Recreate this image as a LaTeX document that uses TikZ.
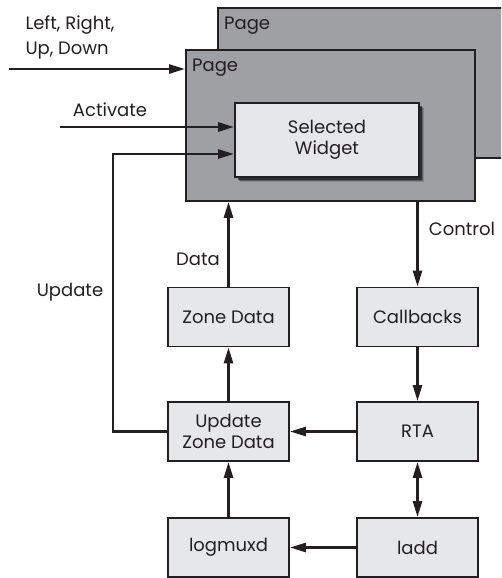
\documentclass[tikz,border=0pt]{standalone}
\usepackage{fontspec}
\setmainfont{Poppins}
\usepackage{tikz}
\usetikzlibrary{calc,positioning,arrows.meta,shadows}
\definecolor{pagec}{RGB}{159,160,163}
\definecolor{boxc}{RGB}{230,231,232}
\definecolor{inkc}{RGB}{35,31,32}
\tikzset{
  page/.style={rectangle,draw=inkc,fill=pagec,line width=1.8pt,anchor=north west},
  pgtxt/.style={anchor=north west,inner xsep=7pt,inner ysep=10pt,font=\fontsize{18}{22}\selectfont,text=inkc},
  box/.style={rectangle,draw=inkc,fill=boxc,line width=1.8pt,minimum width=121,minimum height=59,align=center,font=\fontsize{18}{21}\selectfont,text=inkc},
  wbox/.style={box,minimum width=184,minimum height=74,
    drop shadow={shadow xshift=5pt,shadow yshift=-5pt,fill=black,opacity=0.15},
    drop shadow={shadow xshift=4pt,shadow yshift=-4pt,fill=black,opacity=0.3},
    drop shadow={shadow xshift=2.5pt,shadow yshift=-2.5pt,fill=black,opacity=0.5}},
  lbl/.style={font=\fontsize{18}{25}\selectfont,text=inkc,align=left},
  arr/.style={-{Triangle[length=16pt,width=9pt]},line width=2.6pt,inkc},
  darr/.style={{Triangle[length=16pt,width=9pt]}-{Triangle[length=16pt,width=9pt]},line width=2.6pt,inkc},
}
\begin{document}
\begin{tikzpicture}[x=1pt,y=-1pt]
  \clip (0,0) rectangle (501,578);
  % pages
  \node[page,minimum width=300,minimum height=150] (back) at (217,7) {};
  \node[pgtxt] (backlbl) at (back.north west) {Page};
  \node[page,minimum width=289,minimum height=151] (front) at (185,49) {};
  \node[pgtxt] (frontlbl) at (front.north west) {Page};
  \node[wbox] (widget) at (327,140) {Selected\\Widget};
  % process boxes
  \node[box] (zone) at (228.5,317) {Zone Data};
  \node[box] (cb) at (417.5,317) {Callbacks};
  \node[box] (upd) at (228.5,431.5) {Update\\Zone Data};
  \node[box] (rta) at (417.5,431.5) {RTA};
  \node[box] (logm) at (228.5,547.5) {logmuxd};
  \node[box] (ladd) at (417.5,547.5) {ladd};
  % inputs
  \coordinate (navin) at (9,69);
  \coordinate (actin) at (60,127);
  \coordinate (updin) at (113,154);
  \node[lbl,anchor=west] (navlbl) at (22,37) {Left, Right,\\Up, Down};
  \node[lbl] (actlbl) at (110,110) {Activate};
  \node[lbl] (updlbl) at (70,292) {Update};
  \node[lbl] (datalbl) at (198,259) {Data};
  \node[lbl] (ctllbl) at (462,229) {Control};
  \draw[arr] (navin) -- (navin -| front.west);
  \draw[arr] (actin) -- (actin -| widget.west);
  \draw[arr] (upd.west) -| (updin) -- (updin -| widget.west);
  \draw[arr] (zone.north) -- (zone.north |- front.south);
  \draw[arr] (cb.north |- front.south) -- (cb.north);
  \draw[arr] (cb) -- (rta);
  \draw[arr] (upd) -- (zone);
  \draw[arr] (rta) -- (upd);
  \draw[darr] (rta) -- (ladd);
  \draw[arr] (ladd) -- (logm);
  \draw[arr] (logm) -- (upd);
\end{tikzpicture}
\end{document}
